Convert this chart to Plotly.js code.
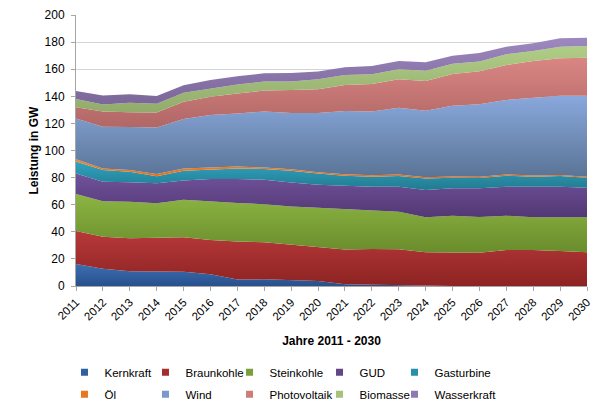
<!DOCTYPE html>
<html>
<head>
<meta charset="utf-8">
<script src="https://cdn.plot.ly/plotly-3.0.1.min.js"></script>
<style>
html,body{margin:0;padding:0;background:#fff;}
#chart{width:596px;height:401px;}
</style>
</head>
<body>
<div id="chart"></div>
<script>
var years = [2011,2012,2013,2014,2015,2016,2017,2018,2019,2020,2021,2022,2023,2024,2025,2026,2027,2028,2029,2030];
var yearLabels = years.map(String);

var kernkraft   = [16.3,12.8,10.8,10.8,10.6,8.6,4.8,4.9,4.4,3.7,1.2,0.8,0.4,0,0,0,0,0,0,0];
var braunkohle  = [24.3,23.6,24.4,24.7,25.4,25.3,28.0,27.4,26.2,25.3,25.8,26.5,26.7,24.9,24.9,24.5,26.6,26.6,25.8,24.9];
var steinkohle  = [27.3,26.1,27.0,25.6,27.6,28.3,28.5,28.1,28.1,28.7,29.8,28.3,27.7,25.9,27.0,26.4,25.3,24.1,24.9,25.8];
var gud         = [15.2,14.5,14.3,14.7,14.2,16.8,17.7,18.1,17.6,17.1,17.2,17.7,18.5,20.0,20.2,21.2,21.4,22.6,22.6,21.8];
var gasturbine  = [8.7,8.6,7.9,5.2,7.3,7.1,7.8,7.8,8.8,8.2,7.4,7.4,7.9,8.6,7.8,7.6,8.1,7.4,7.9,7.4];
var oel         = [1.7,1.2,1.2,1.6,1.6,1.4,1.3,1.2,1.0,1.0,1.1,1.0,1.1,0.8,0.9,0.9,0.9,0.8,0.8,0.7];
var wind        = [30.2,30.8,31.7,34.3,36.6,38.7,39.2,41.3,41.5,43.6,46.7,47.0,49.3,49.2,52.2,53.6,55.0,57.5,58.4,59.8];
var photovoltaik= [8.3,11.1,10.9,11.2,12.6,13.5,14.7,15.5,17.1,17.6,19.1,20.4,20.9,21.9,23.5,24.2,25.8,27.0,27.7,28.1];
var biomasse    = [6.0,5.3,7.1,6.4,6.8,6.2,6.7,6.6,6.2,7.3,7.4,7.1,7.4,7.6,7.5,7.3,7.9,7.4,8.5,8.6];
var wasserkraft = [5.9,6.5,6.2,5.8,5.4,6.1,6.1,6.1,6.3,5.8,5.7,6.2,6.1,6.2,6.0,6.3,5.6,5.7,6.2,6.2];

var seriesNames = ['Kernkraft','Braunkohle','Steinkohle','GUD','Gasturbine','Öl','Wind','Photovoltaik','Biomasse','Wasserkraft'];
var seriesValues = [kernkraft,braunkohle,steinkohle,gud,gasturbine,oel,wind,photovoltaik,biomasse,wasserkraft];
var yTitle = 'Leistung in GW';
var xTitle = 'Jahre 2011 - 2030';
// [bottom(dark), top(light), legend]
var seriesColors = [
  ['#28508c','#3c6fb2','#2f5fa0'],
  ['#8c2322','#b8393a','#a52d2c'],
  ['#6a8c2c','#8cb543','#7aa037'],
  ['#523873','#71529c','#624689'],
  ['#217a90','#31a3c0','#2a90aa'],
  ['#e0701c','#ee852e','#e8781f'],
  ['#5a7496','#89a8dc','#7a98cc'],
  ['#b06766','#da8683','#cc7d7a'],
  ['#92ab6c','#b0cd86','#a5c17c'],
  ['#7a6698','#9d89bf','#8e7ab0']
];

var traces = [];
seriesNames.forEach(function(n,i){
  traces.push({
    type:'scatter', mode:'lines', name:n, x:years, y:seriesValues[i],
    stackgroup:'one', line:{width:0, color:seriesColors[i][2]},
    fillcolor:seriesColors[i][2],
    fillgradient:{type:'vertical', colorscale:[[0,seriesColors[i][0]],[1,seriesColors[i][1]]]},
    showlegend:false, hoverinfo:'x+y+name'
  });
});
var legendIds = ['legend','legend2','legend3','legend4','legend5'];
seriesNames.forEach(function(n,i){
  traces.push({
    type:'scatter', mode:'markers', name:n, x:[null], y:[null],
    marker:{symbol:'square', size:7, color:seriesColors[i][2]},
    legend:legendIds[i % 5], legendgroup:n,
    showlegend:true, hoverinfo:'skip'
  });
});

var legendCols = [0.1082, 0.2441, 0.3851, 0.5361, 0.6619];
function makeLegend(xc){
  return {orientation:'v', xref:'container', x:xc, xanchor:'left', y:-0.265, yanchor:'top',
          traceorder:'grouped', font:{size:11.5, color:'#000'}, itemwidth:30,
          tracegroupgap:3, bgcolor:'rgba(0,0,0,0)', borderwidth:0};
}

var layout = {
  width:596, height:401,
  margin:{l:76, r:9, t:15, b:115, autoexpand:false},
  paper_bgcolor:'#ffffff', plot_bgcolor:'#ffffff',
  font:{family:'Liberation Sans, Arial, sans-serif', size:11, color:'#000'},
  showlegend:true,
  legend:makeLegend(legendCols[0]),
  legend2:makeLegend(legendCols[1]),
  legend3:makeLegend(legendCols[2]),
  legend4:makeLegend(legendCols[3]),
  legend5:makeLegend(legendCols[4]),
  xaxis:{
    range:[2011,2030], tickmode:'array', tickvals:years, ticktext:yearLabels,
    tickangle:-45, ticks:'outside', ticklen:4, tickcolor:'#a6a6a6',
    showline:true, linecolor:'#a6a6a6', linewidth:1, showgrid:false, zeroline:false,
    tickfont:{size:11.5},
    title:{text:'<b>' + xTitle + '</b>', font:{size:12}, standoff:14}
  },
  yaxis:{
    range:[0,200], dtick:20, ticks:'outside', ticklen:4, tickcolor:'#a6a6a6',
    showline:true, linecolor:'#a6a6a6', linewidth:1,
    showgrid:true, gridcolor:'#d4d4d4', gridwidth:1, zeroline:false,
    tickfont:{size:12}, ticklabelstandoff:4
  },
  annotations:[{
    text:'<b>' + yTitle + '</b>', textangle:-90, showarrow:false,
    xref:'paper', yref:'paper', x:-0.084, y:0.5, xanchor:'center', yanchor:'middle',
    font:{size:12, color:'#000'}
  }],
  hovermode:'closest'
};

Plotly.newPlot('chart', traces, layout, {displayModeBar:false, staticPlot:true});
</script>
</body>
</html>
